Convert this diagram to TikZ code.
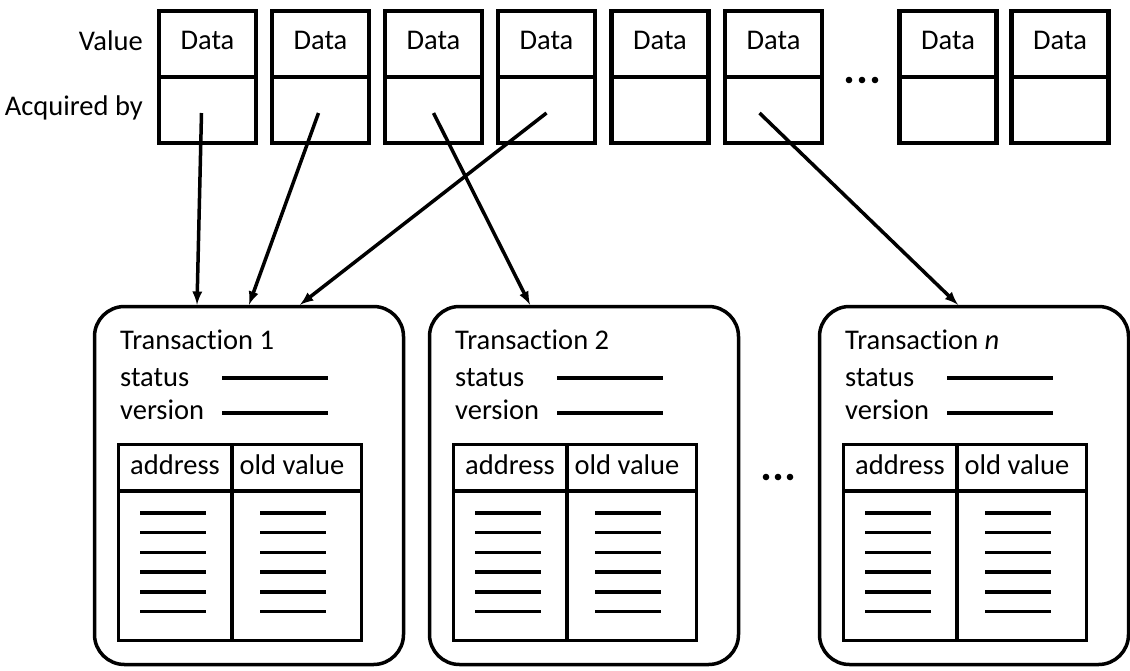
\documentclass[tikz,border=0pt]{standalone}
\usepackage{fontspec}
\setmainfont{Carlito}[Ligatures=NoCommon]
\usepackage{tikz}

\begin{document}
\begin{tikzpicture}[x=1pt, y=-1pt,
		font=\fontsize{28.5}{34}\selectfont,
		cell/.style={draw=black, line width=4.5pt, minimum width=97pt, minimum height=66pt, inner sep=0pt},
		txbox/.style={draw=black, line width=3.5pt, rounded corners=30pt, minimum width=309pt, minimum height=358pt, inner sep=0pt},
		lbl/.style={black, anchor=base west, inner sep=0pt},
		rule/.style={draw=black, line width=3.5pt},
		ptr/.style={draw=black, -latex, line width=3.5pt}]

	\useasboundingbox (0,0) rectangle (1130,670);

	% lock words: value on top, owner below
	\foreach \i/\x in {1/207.5, 2/320.5, 3/433.5, 4/546.5, 5/660, 6/773.5, 7/948, 8/1060} {
		\node[cell] (v\i) at (\x,44) {};
		\node[cell] (q\i) at (\x,110) {};
		\node[black, anchor=base] (d\i) at (\x,49) {Data};
	}
	\node[lbl, anchor=base east] (vallbl) at (143,50) {Value};
	\node[lbl, anchor=base east] (acqlbl) at (143,115) {Acquired by};
	\foreach \x in {849,862,875}
		\fill[black] (\x,80) circle (3.3);

	% transaction descriptors
	\foreach \t/\dx/\num in {t1/0/1, t2/335/2, tn/725/\textit{n}} {
		\begin{scope}[shift={(\dx,0)}]
			\node[txbox] (\t) at (249,485.5) {};
			\node[lbl] (\t-name) at (120,349) {Transaction \num};
			\node[lbl] (\t-st) at (120,386) {status};
			\node[lbl] (\t-ver) at (120,419) {version};
			\draw[rule] (222,378) -- (328,378);
			\draw[rule] (222,413) -- (328,413);
			% undo log
			\draw[rule] (118.5,444.5) rectangle (361.5,640.5);
			\draw[rule] (118.5,491) -- (361.5,491);
			\draw[rule] (232,444.5) -- (232,640.5);
			\node[black, anchor=base] (\t-addr) at (175,474) {address};
			\node[black, anchor=base] (\t-old) at (292,474) {old value};
			\foreach \k in {0,...,5} {
				\draw[rule] (140,513+19.7*\k) -- (206,513+19.7*\k);
				\draw[rule] (260,513+19.7*\k) -- (326,513+19.7*\k);
			}
		\end{scope}
	}
	\foreach \x in {766,778,790}
		\fill[black] (\x,477) circle (3.3);

	% owners
	\draw[ptr] ([xshift=-6pt,yshift=-3pt]q1.center) -- ([xshift=-52pt]t1.north);
	\draw[ptr] ([xshift=-2pt,yshift=-3pt]q2.center) -- (t1.north);
	\draw[ptr] ([yshift=-3pt]q4.center) -- ([xshift=51pt]t1.north);
	\draw[ptr] ([yshift=-3pt]q3.center) -- ([xshift=-54pt]t2.north);
	\draw[ptr] ([xshift=-14pt,yshift=-3pt]q6.center) -- ([xshift=-16pt]tn.north);
\end{tikzpicture}
\end{document}
